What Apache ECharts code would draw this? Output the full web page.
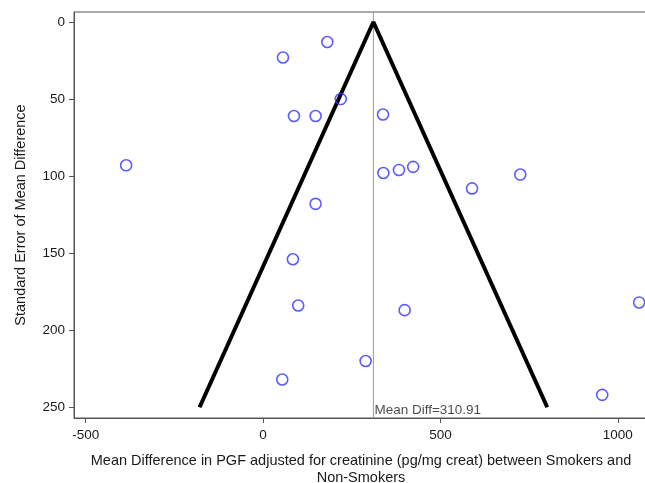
<!DOCTYPE html>
<html>
<head>
	<meta charset="utf-8" />
	<title>Funnel plot</title>
	<script src="https://cdn.jsdelivr.net/npm/echarts@6/dist/echarts.min.js"></script>
	<style>
		html, body { margin: 0; padding: 0; background: #fff; }
	</style>
</head>
<body>
	<div id="main" style="width: 645px;height: 483px;"></div>
	<script type="text/javascript">

		// studies: mean difference (x) and its standard error (y)
		var meanDiff = [181, 56, 219, 338, 87, 148, -386, 339, 383, 423, 725, 589, 148, 84, 99, 399, 1060, 289, 54, 956];
		var stdErr   = [13, 23, 50, 60, 61, 61, 93, 98, 96, 94, 99, 108, 118, 154, 184, 187, 182, 220, 232, 242];

		// pooled mean and funnel limits
		var pooledMean = 310.91;
		var funnelX = [-179, 310.91, 801];
		var funnelY = [250, 0, 250];

		var xTicks = [-500, 0, 500, 1000];
		var yTicks = [0, 50, 100, 150, 200, 250];

		var points = meanDiff.map(function (v, i) { return [v, stdErr[i]]; });
		var funnel = funnelX.map(function (v, i) { return [v, funnelY[i]]; });

		var myChart = echarts.init(document.getElementById("main"));

		var txt = '#1a1a1a';
		var font = 'Liberation Sans, Arial, sans-serif';

		var option = {
			animation: false,
			textStyle: { fontFamily: font },
			grid: {
				left: 74,
				top: 12,
				right: -3,
				bottom: 65,
				outerBoundsMode: 'none',
				containLabel: false,
				show: true,
				borderColor: '#555',
				borderWidth: 1
			},
			xAxis: {
				type: 'value',
				min: -533,
				max: 1085,
				name: 'Mean Difference in PGF adjusted for creatinine (pg/mg creat) between Smokers and\nNon-Smokers',
				nameLocation: 'middle',
				nameGap: 34,
				nameTextStyle: { fontSize: 14.5, color: txt, lineHeight: 17, fontFamily: font },
				splitLine: { show: false },
				axisLine: { show: true, onZero: false, lineStyle: { color: '#555', width: 1 } },
				axisTick: { show: true, length: 5, customValues: xTicks, lineStyle: { color: '#555' } },
				axisLabel: {
					customValues: xTicks, fontSize: 13.5, color: txt, margin: 10, fontFamily: font,
					formatter: function (v) { return String(v); }
				}
			},
			yAxis: {
				type: 'value',
				inverse: true,
				min: -6.5,
				max: 257,
				name: 'Standard Error of Mean Difference',
				nameLocation: 'middle',
				nameGap: 46,
				nameTextStyle: { fontSize: 14.5, color: txt, fontFamily: font },
				splitLine: { show: false },
				axisLine: { show: true, onZero: false, lineStyle: { color: '#555', width: 1 } },
				axisTick: { show: true, length: 5, customValues: yTicks, lineStyle: { color: '#555' } },
				axisLabel: { customValues: yTicks, fontSize: 13.5, color: txt, margin: 9, fontFamily: font }
			},
			series: [
				{
					type: 'line',
					data: [[pooledMean, -6.5], [pooledMean, 257]],
					symbol: 'none',
					lineStyle: { color: '#999', width: 1 },
					z: 1
				},
				{
					type: 'line',
					data: funnel,
					symbol: 'none',
					lineStyle: { color: '#000', width: 4 },
					z: 2
				},
				{
					type: 'scatter',
					data: points,
					symbol: 'circle',
					symbolSize: 11,
					itemStyle: { color: 'rgba(0,0,0,0)', borderColor: '#3535ff', borderWidth: 1.6 },
					z: 3
				},
				{
					type: 'scatter',
					data: [[pooledMean, 257]],
					symbolSize: 0,
					silent: true,
					label: {
						show: true,
						position: 'top',
						align: 'left',
						distance: 1,
						offset: [1, 0],
						fontSize: 13.5,
						color: txt,
						fontFamily: font,
						formatter: function () { return 'Mean Diff=' + pooledMean; }
					},
					z: 4
				}
			]
		};

		myChart.setOption(option);

	</script>
</body>
</html>
